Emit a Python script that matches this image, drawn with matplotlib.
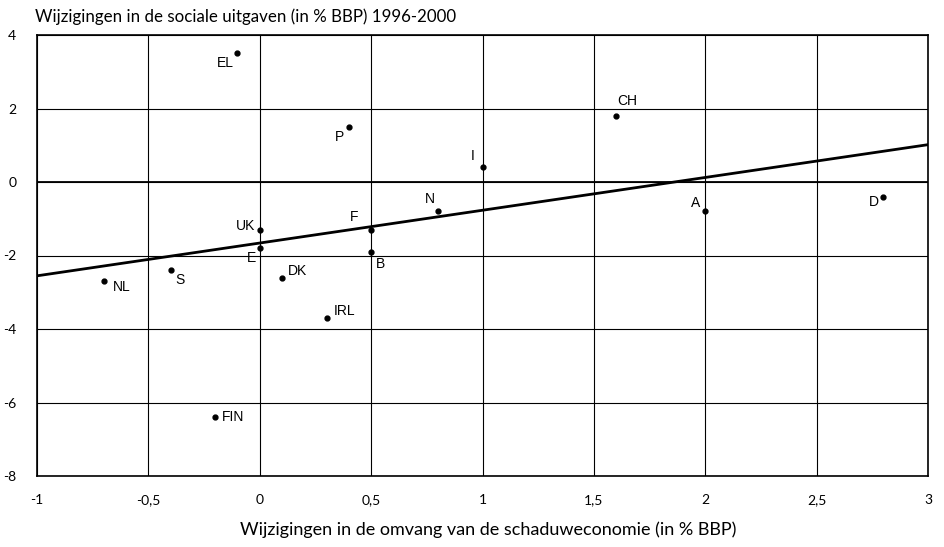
import numpy as np
import matplotlib
matplotlib.use("Agg")
import matplotlib.pyplot as plt

# ---- data ----
countries = ["EL", "P", "CH", "I", "N", "F", "B", "A", "D", "UK", "E", "S", "NL", "DK", "IRL", "FIN"]
shadow_change = [-0.1, 0.4, 1.6, 1.0, 0.8, 0.5, 0.5, 2.0, 2.8, 0.0, 0.0, -0.4, -0.7, 0.1, 0.3, -0.2]
social_change = [3.5, 1.5, 1.8, 0.4, -0.8, -1.3, -1.9, -0.8, -0.4, -1.3, -1.8, -2.4, -2.7, -2.6, -3.7, -6.4]
x_ticks = [-1, -0.5, 0, 0.5, 1, 1.5, 2, 2.5, 3]
x_ticklabels = ["-1", "-0,5", "0", "0,5", "1", "1,5", "2", "2,5", "3"]
y_ticks = [-8, -6, -4, -2, 0, 2, 4]
y_ticklabels = ["-8", "-6", "-4", "-2", "0", "2", "4"]
title_text = "Wijzigingen in de sociale uitgaven (in % BBP) 1996-2000"
xlabel_text = "Wijzigingen in de omvang van de schaduweconomie (in % BBP)"

# label placement (offsets in points, style only)
label_offsets = {
    "EL": (-9, -7), "P": (-7, -7), "CH": (8, 11), "I": (-7, 8), "N": (-6, 9),
    "F": (-12, 9), "B": (7, -9), "A": (-7, 6), "D": (-7, -4), "UK": (-10, 3),
    "E": (-6, -7), "S": (7, -7), "NL": (13, -4), "DK": (11, 5), "IRL": (13, 5),
    "FIN": (13, 0),
}

label_font = ["Liberation Sans", "DejaVu Sans"]
axis_font = ["Lato", "DejaVu Sans"]

fig = plt.figure(figsize=(9.45, 5.47), dpi=100)
ax = fig.add_axes([37 / 945, 1 - 476 / 547, (928 - 37) / 945, (476 - 35) / 547])

ax.set_xlim(-1, 3)
ax.set_ylim(-8, 4)
ax.set_xticks(x_ticks)
ax.set_xticklabels(x_ticklabels, family=axis_font, fontsize=10)
ax.set_yticks(y_ticks)
ax.set_yticklabels(y_ticklabels, family=axis_font, fontsize=10)
ax.tick_params(axis="both", length=0)
ax.tick_params(axis="x", pad=13)
ax.tick_params(axis="y", pad=15)
for lab in ax.get_yticklabels():
    lab.set_horizontalalignment("right")

ax.grid(True, color="black", linewidth=0.8)
ax.set_axisbelow(True)
ax.axhline(0, color="black", linewidth=1.3, zorder=1)
for s in ax.spines.values():
    s.set_color("black")
    s.set_linewidth(1.2)

# regression line (OLS fit of the data)
slope, intercept = np.polyfit(shadow_change, social_change, 1)
xs = np.array([-1, 3])
ax.plot(xs, slope * xs + intercept, color="black", linewidth=2, zorder=3)

ax.plot(shadow_change, social_change, "o", color="black", markersize=3.5, zorder=4)
for c, x, y in zip(countries, shadow_change, social_change):
    dx, dy = label_offsets[c]
    ax.annotate(c, (x, y), xytext=(dx, dy), textcoords="offset points",
                ha="center", va="center", fontsize=10, family=label_font, zorder=5)

fig.text(35 / 945, 1 - 17 / 547, title_text, family=axis_font, fontsize=12.2,
         ha="left", va="center")
fig.text(488 / 945, 1 - 530 / 547, xlabel_text, family=axis_font,
         fontsize=13, ha="center", va="center")

fig.savefig("out.png", dpi=100)
